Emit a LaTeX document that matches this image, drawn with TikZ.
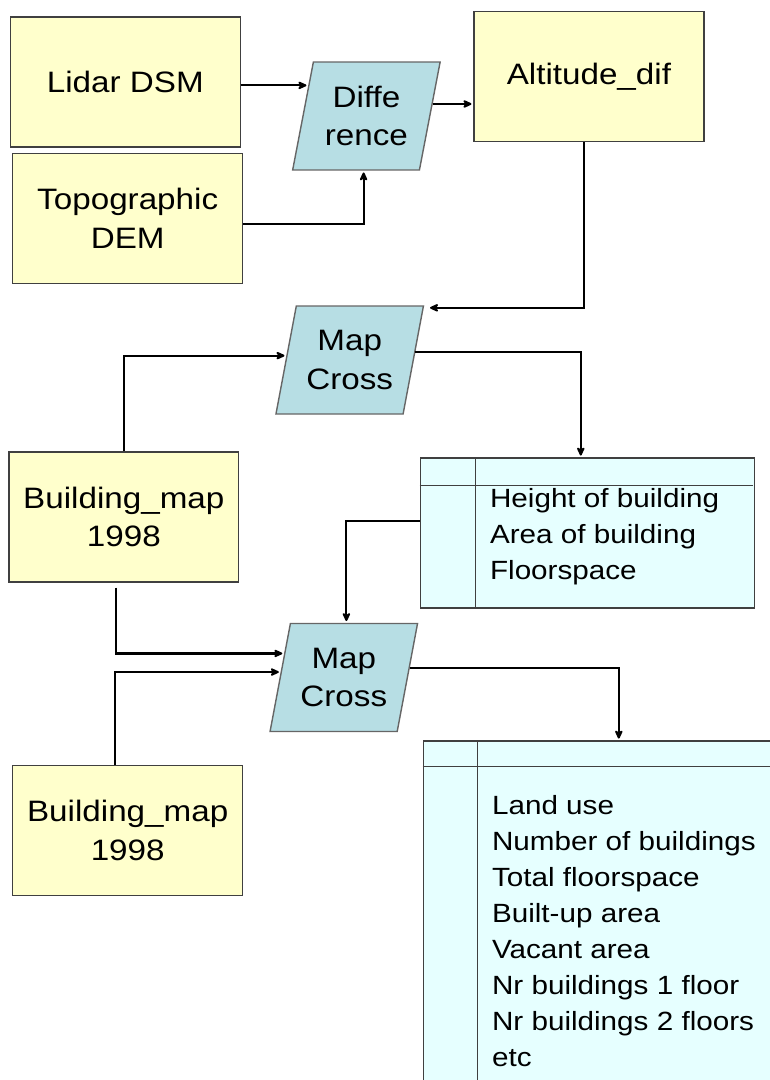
\documentclass[tikz,border=0pt]{standalone}
\usepackage{fontspec}
\setmainfont{Liberation Sans}[FakeStretch=1.125]
\usetikzlibrary{positioning, calc, shapes.geometric, arrows.meta}

\definecolor{boxyellow}{RGB}{255,255,204}
\definecolor{opblue}{RGB}{183,222,228}
\definecolor{tabcyan}{RGB}{230,255,255}

\newcommand{\bigfont}{\fontsize{16.8}{21.9}\selectfont}
\newcommand{\listfont}{\fontsize{15}{20.5}\selectfont}

\begin{document}
\begin{tikzpicture}[
    x=0.02cm, y=-0.02cm,
    >={Stealth[round, length=0.22cm, width=0.2cm]},
    shorten >=1pt,
    line width=1.2pt,
    datbox/.style={draw=black!75, line width=0.8pt, fill=boxyellow,
        minimum width=4.6cm, minimum height=2.6cm, align=center, font=\bigfont},
    opbox/.style={trapezium, trapezium left angle=71, trapezium right angle=109,
        trapezium stretches body, draw=black!60, line width=0.8pt, fill=opblue,
        minimum width=2.95cm, minimum height=2.16cm, inner xsep=-0.14cm, inner ysep=0pt,
        align=center, font=\bigfont},
    tabbox/.style={draw=black!75, line width=0.8pt, fill=tabcyan, inner sep=0pt},
    tabtext/.style={anchor=west, inner sep=0pt, align=left, font=\listfont}
]
\useasboundingbox (0,0) rectangle (770,1080);

% Define nodes
\node (lidar) [datbox] at (125.3,82) {Lidar DSM};
\node (topo)  [datbox] at (127.7,218.5) {Topographic\\DEM};
\node (diff)  [opbox]  at (366.4,116) {Diffe\\rence};
\node (alt)   [datbox] at (588.9,76.5) {Altitude\_dif};

\node (crossA) [opbox]  at (349.7,360) {Map\\Cross};
\node (bmapA)  [datbox] at (123.8,517) {Building\_map\\1998};
\node (tabA)   [tabbox, minimum width=6.68cm, minimum height=3cm] at (587.4,533) {};
\node (tabAtxt) [tabtext] at (489,537) {Height of building\\Area of building\\Floorspace};

\node (crossB) [opbox]  at (343.8,677.5) {Map\\Cross};
\node (bmapB)  [datbox] at (127.7,830.5) {Building\_map\\1998};
\node (tabB)   [tabbox, minimum width=7.82cm, minimum height=7.18cm] at (618.8,920.5) {};
\node (tabBtxt) [tabtext] at (491,931.5) {Land use\\Number of buildings\\Total floorspace\\Built-up area\\Vacant area\\Nr buildings 1 floor\\Nr buildings 2 floors\\etc};

% Table rules
\draw[black!75, line width=0.8pt] ([xshift=1.12cm]tabA.north west) -- ([xshift=1.12cm]tabA.south west);
\draw[black!75, line width=0.8pt] ([yshift=-0.56cm]tabA.north west) -- ([yshift=-0.56cm]tabA.north east);
\draw[black!75, line width=0.8pt] ([xshift=1.1cm]tabB.north west) -- ([xshift=1.1cm]tabB.south west);
\draw[black!75, line width=0.8pt] ([yshift=-0.52cm]tabB.north west) -- ([yshift=-0.52cm]tabB.north east);

% Points on the slanted sides
\coordinate (diffin)  at ($(diff.bottom left corner)!0.78!(diff.top left corner)$);
\coordinate (diffbot) at ($(diff.bottom left corner)!0.56!(diff.bottom right corner)$);
\coordinate (diffout) at ($(diff.bottom right corner)!0.61!(diff.top right corner)$);
\coordinate (crossAin)  at ($(crossA.bottom left corner)!0.54!(crossA.top left corner)$);
\coordinate (crossAout) at ($(crossA.bottom right corner)!0.57!(crossA.top right corner)$);
\coordinate (crossBtop) at ($(crossB.top left corner)!0.44!(crossB.top right corner)$);
\coordinate (crossBinA) at ($(crossB.bottom left corner)!0.72!(crossB.top left corner)$);
\coordinate (crossBinB) at ($(crossB.bottom left corner)!0.55!(crossB.top left corner)$);
\coordinate (crossBout) at ($(crossB.bottom right corner)!0.59!(crossB.top right corner)$);

% Main edges
\draw[->] (lidar.east |- diffin) -- (diffin);
\draw[->] ([yshift=-0.11cm]topo.east) -| (diffbot);
\draw[->] (diffout) -- (diffout -| alt.west);

% First overlay
\draw[->] (alt.266) |- ([xshift=0.08cm, yshift=-0.05cm]crossA.top right corner);
\draw[->] (bmapA.north) |- (crossAin);
\draw[->] (crossAout) -| (tabA.95);

% Second overlay
\draw[->] (tabA.176) -| (crossBtop);
\draw[->, shorten <=0.1cm] (bmapA.263) |- (crossBinA);
\draw[->] (bmapB.101) |- (crossBinB);
\draw[->] (crossBout) -| (tabB.north);

\end{tikzpicture}
\end{document}
